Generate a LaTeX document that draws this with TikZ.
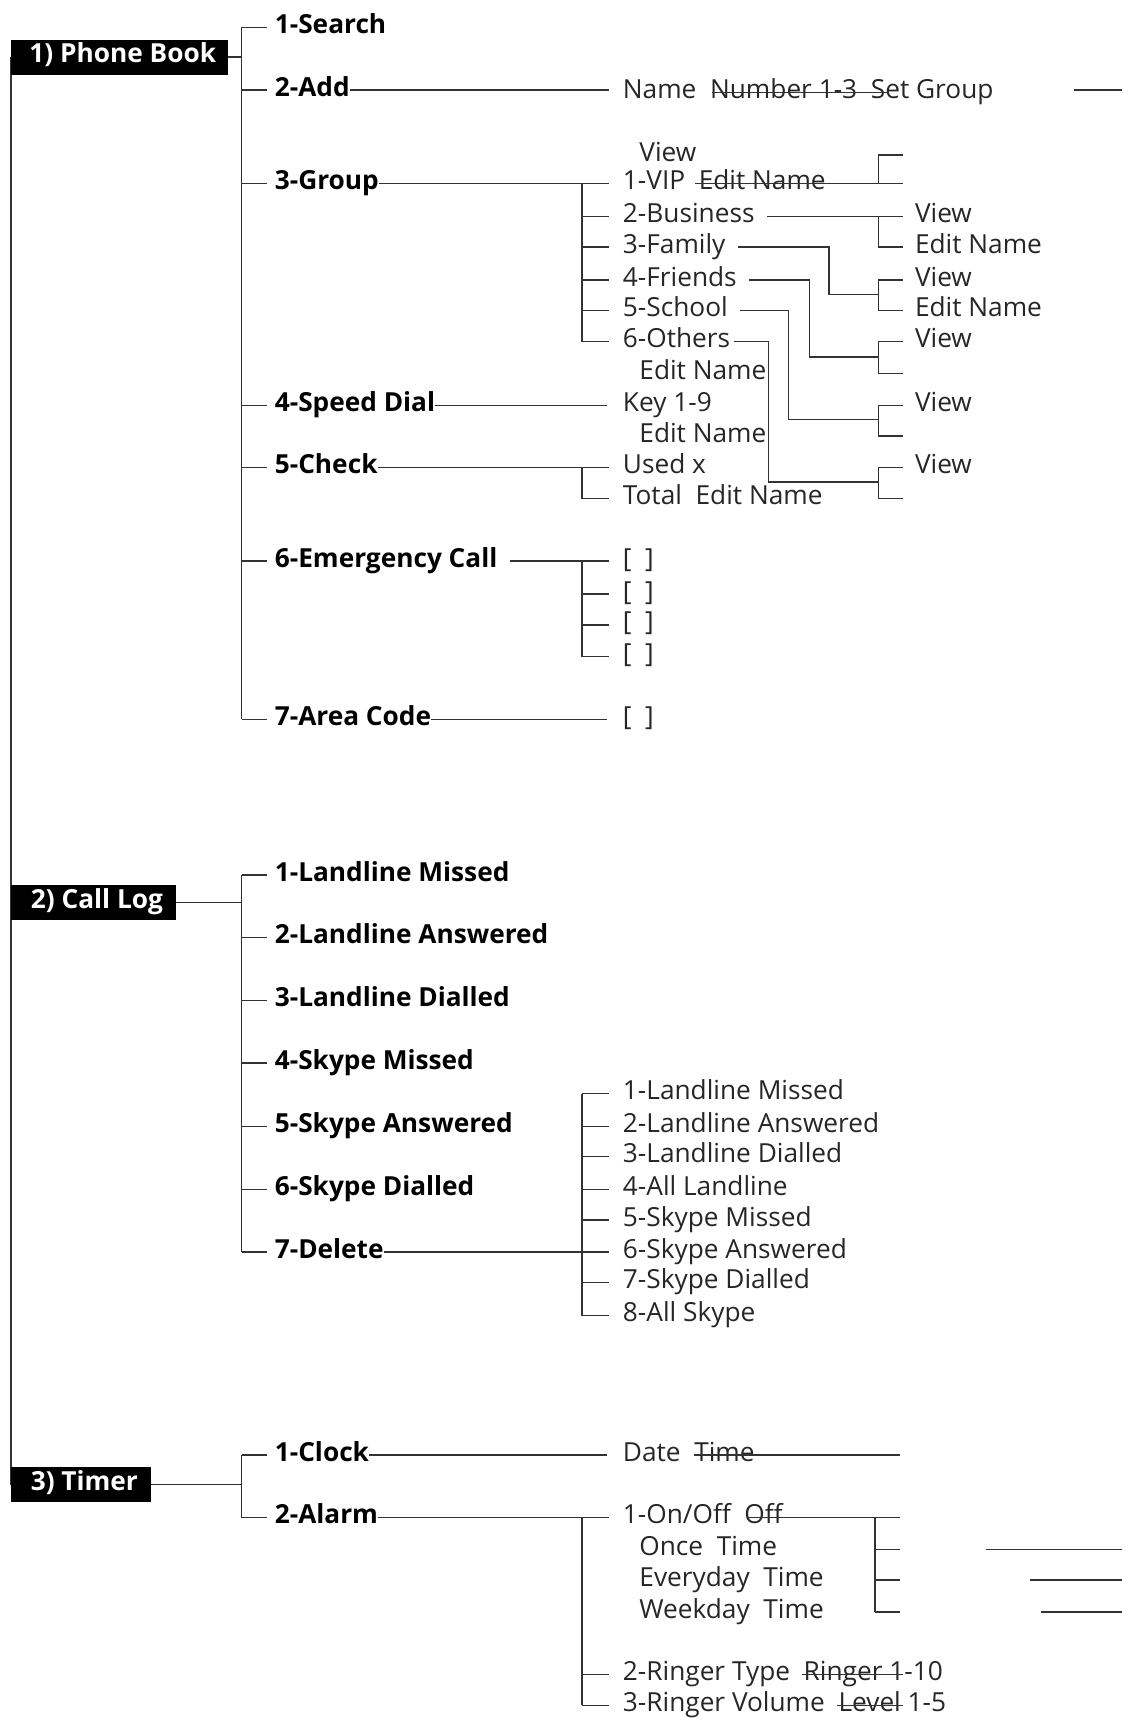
\documentclass[tikz,border=0pt]{standalone}
\usepackage{fontspec}
\setmainfont{Open Sans}
\usetikzlibrary{positioning}
\tikzset{
  head/.style={fill=black, text=white, font=\fontsize{17}{19}\selectfont\bfseries, inner sep=0pt, anchor=west, minimum height=0.8cm, text height=0.85em, text depth=0.1em},
  item/.style={font=\fontsize{17}{19}\selectfont\bfseries, inner sep=0pt, anchor=west, text height=0.9em, text depth=0.1em},
  sub/.style={font=\fontsize{17}{19}\selectfont, inner sep=0pt, anchor=west, text height=0.9em, text depth=0.1em, text=black!85},
  wire/.style={line width=0.9pt, black!80}
}
\begin{document}
\begin{tikzpicture}[x=0.025cm, y=-0.025cm]
  \useasboundingbox (0,0) rectangle (1030,1570);

  % main spine
  \draw[wire] (10,52) -- (10,1352);

  % headings
  \node (pb) [head, minimum width=4.925cm] at (10,52) {\hspace{0.15cm}1) Phone Book\hfill};
  \node (cl) [head, minimum width=3.75cm] at (10,822) {\hspace{0.15cm}2) Call Log\hfill};
  \node (tm) [head, minimum width=3.175cm] at (10,1352) {\hspace{0.15cm}3) Timer\hfill};

  % ---- Phone book ----
  \draw[wire] (pb.east) -- (220,52);
  \draw[wire] (220,25) -- (220,655);
  \foreach \y in {25,82,167,369,426,511,655} \draw[wire] (220,\y) -- (243,\y);
  \node (search) [item] at (250,25) {1-Search};
  \node (add) [item] at (250,82) {2-Add};
  \node (group) [item] at (250,167) {3-Group};
  \node (speed) [item] at (250,369) {4-Speed Dial};
  \node (check) [item] at (250,426) {5-Check};
  \node (emerg) [item] at (250,511) {6-Emergency Call};
  \node (area) [item] at (250,655) {7-Area Code};

  % add
  \node (name) [sub] at (567,84) {Name\ \ Number 1-3\ \ Set Group};
  \draw[wire] (add.east) -- (555,82);
  \draw[wire] (648,84) -- (810,84);
  \draw[wire] (978,82) -- (1022,82);

  % group
  \draw[wire] (group.east) -- (530,167);
  \draw[wire] (530,167) -- (530,311);
  \foreach \y in {167,197,225,255,283,311} \draw[wire] (530,\y) -- (555,\y);
  \node (vipview) [sub] at (582,141) {View};
  \node (vip) [sub] at (567,167) {1-VIP\ \ Edit Name};
  \node (bus) [sub] at (567,197) {2-Business};
  \node (fam) [sub] at (567,225) {3-Family};
  \node (fri) [sub] at (567,255) {4-Friends};
  \node (sch) [sub] at (567,283) {5-School};
  \node (oth) [sub] at (567,311) {6-Others};
  \node (othedit) [sub] at (582,340) {Edit Name};

  % right brackets
  \foreach \a/\b in {141/167,197/225,255/283,311/340,369/397,426/454}{
    \draw[wire] (822,\a) -- (800,\a) -- (800,\b) -- (822,\b);
  }
  \node (v2) [sub] at (833,197) {View};
  \node (e2) [sub] at (833,225) {Edit Name};
  \node (v3) [sub] at (833,255) {View};
  \node (e3) [sub] at (833,283) {Edit Name};
  \node (v4) [sub] at (833,311) {View};
  \node (v5) [sub] at (833,369) {View};
  \node (v6) [sub] at (833,426) {View};

  \draw[wire] (633,167) -- (822,167);
  \draw[wire] ([xshift=8pt]bus.east) -- (800,197);
  \draw[wire] ([xshift=8pt]fam.east) -| (755,268) -- (800,268);
  \draw[wire] ([xshift=8pt]fri.east) -| (737,325) -- (800,325);
  \draw[wire] ([xshift=8pt]sch.east) -| (718,382) -- (800,382);
  \draw[wire] ([xshift=2pt]oth.east) -| (700,439) -- (800,439);

  % speed dial
  \node (key) [sub] at (567,369) {Key 1-9};
  \node (keyedit) [sub] at (582,397) {Edit Name};
  \draw[wire] (speed.east) -- (553,369);

  % check
  \node (used) [sub] at (567,426) {Used x};
  \node (total) [sub] at (567,454) {Total\ \ Edit Name};
  \draw[wire] (check.east) -- (530,426) -- (530,454);
  \foreach \y in {426,454} \draw[wire] (530,\y) -- (555,\y);

  % emergency
  \draw[wire] ([xshift=8pt]emerg.east) -- (530,511) -- (530,598);
  \foreach \y in {511,541,569,598}{
    \draw[wire] (530,\y) -- (555,\y);
    \node[sub] at (567,\y) {[\ \ ]};
  }

  % area code
  \draw[wire] (area.east) -- (553,655);
  \node (areabox) [sub] at (567,655) {[\ \ ]};

  % ---- Call log ----
  \draw[wire] (cl.east) -- (220,822);
  \draw[wire] (220,797) -- (220,1140);
  \foreach \y in {797,854,911,968,1026,1083,1140} \draw[wire] (220,\y) -- (243,\y);
  \node (lm) [item] at (250,797) {1-Landline Missed};
  \node (la) [item] at (250,854) {2-Landline Answered};
  \node (ld) [item] at (250,911) {3-Landline Dialled};
  \node (sm) [item] at (250,968) {4-Skype Missed};
  \node (sa) [item] at (250,1026) {5-Skype Answered};
  \node (sd) [item] at (250,1083) {6-Skype Dialled};
  \node (del) [item] at (250,1140) {7-Delete};
  \draw[wire] (del.east) -- (530,1140);
  \draw[wire] (530,996) -- (530,1198);
  \foreach \y/\t in {996/1-Landline Missed,1026/2-Landline Answered,1053/3-Landline Dialled,1083/4-All Landline,1111/5-Skype Missed,1140/6-Skype Answered,1168/7-Skype Dialled,1198/8-All Skype}{
    \draw[wire] (530,\y) -- (555,\y);
    \node[sub] at (567,\y) {\t};
  }

  % ---- Timer ----
  \draw[wire] (tm.east) -- (220,1352);
  \draw[wire] (220,1325) -- (220,1382);
  \foreach \y in {1325,1382} \draw[wire] (220,\y) -- (243,\y);
  \node (clock) [item] at (250,1325) {1-Clock};
  \node (alarm) [item] at (250,1382) {2-Alarm};

  \draw[wire] (clock.east) -- (553,1325);
  \node (date) [sub] at (567,1325) {Date\ \ Time};
  \draw[wire] (632,1325) -- (820,1325);

  \draw[wire] (alarm.east) -- (530,1382) -- (530,1553);
  \foreach \y in {1382,1525,1553} \draw[wire] (530,\y) -- (555,\y);
  \node (onoff) [sub] at (567,1382) {1-On/Off\ \ Off};
  \draw[wire] (680,1382) -- (820,1382);
  \draw[wire] (797,1382) -- (797,1468);
  \foreach \y in {1411,1439,1468} \draw[wire] (797,\y) -- (820,\y);
  \node (once) [sub] at (582,1411) {Once\ \ Time};
  \node (every) [sub] at (582,1439) {Everyday\ \ Time};
  \node (week) [sub] at (582,1468) {Weekday\ \ Time};
  \draw[wire] (898,1411) -- (1022,1411);
  \draw[wire] (938,1439) -- (1022,1439);
  \draw[wire] (948,1468) -- (1022,1468);

  \node (rtype) [sub] at (567,1525) {2-Ringer Type\ \ Ringer 1-10};
  \draw[wire] (730,1525) -- (822,1525);
  \node (rvol) [sub] at (567,1553) {3-Ringer Volume\ \ Level 1-5};
  \draw[wire] (762,1553) -- (822,1553);
\end{tikzpicture}
\end{document}
